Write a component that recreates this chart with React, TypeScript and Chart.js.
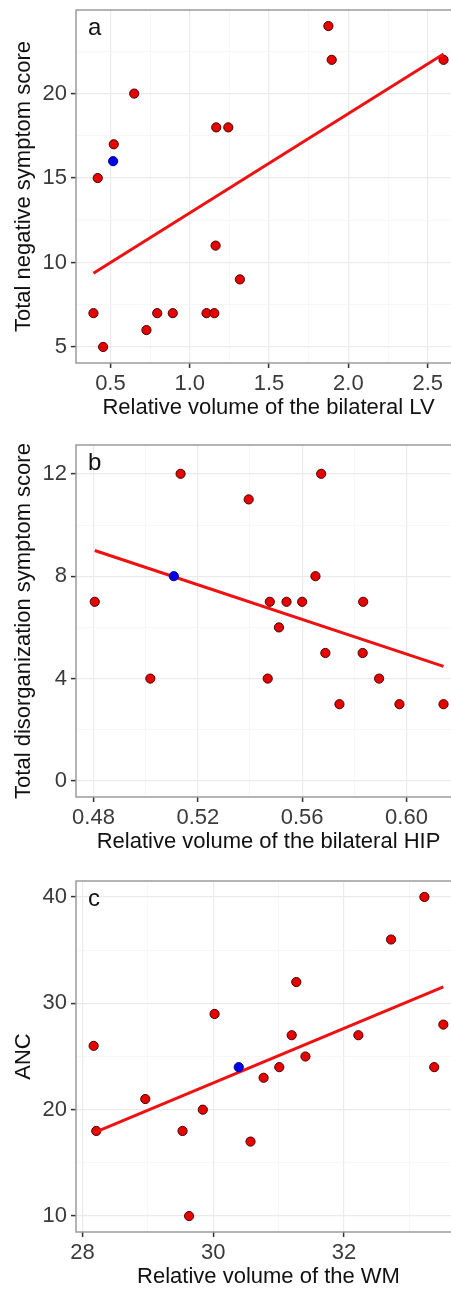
import React, { useEffect, useRef } from 'react';
import { Chart, registerables } from 'chart.js';

Chart.register(...registerables);

const FONT = "'Liberation Sans', Arial, Helvetica, sans-serif";

// ---------- Panel a: LV ----------
const lvRedX = [1.874, 1.895, 2.6, 0.65, 1.167, 1.243, 0.521, 0.42, 1.163, 1.316, 0.393, 0.795, 0.893, 1.106, 1.155, 0.727, 0.454];
const lvRedY = [24, 22, 22, 20, 18, 18, 17, 15, 11, 9, 7, 7, 7, 7, 7, 6, 5];
const lvBlueX = [0.517];
const lvBlueY = [16];
const lvXTicks = [0.5, 1.0, 1.5, 2.0, 2.5];
const lvYTicks = [5, 10, 15, 20];
const lvXRange = [0.283, 2.71];
const lvYRange = [4.05, 24.95];

// ---------- Panel b: HIP ----------
const hipRedX = [0.4805, 0.5134, 0.5395, 0.5673, 0.5651, 0.5476, 0.554, 0.56, 0.5834, 0.5511, 0.5689, 0.5832, 0.5018, 0.5468, 0.5895, 0.5743, 0.5973, 0.6142];
const hipRedY = [7, 12, 11, 12, 8, 7, 7, 7, 7, 6, 5, 5, 4, 4, 4, 3, 3, 3];
const hipBlueX = [0.5108];
const hipBlueY = [8];
const hipXTicks = [0.48, 0.52, 0.56, 0.6];
const hipYTicks = [0, 4, 8, 12];
const hipXRange = [0.4733, 0.6209];
const hipYRange = [-0.625, 13.125];

// ---------- Panel c: WM ----------
const wmRedX = [33.23, 32.72, 31.27, 30.02, 28.17, 31.2, 32.22, 33.52, 31.41, 31.01, 33.38, 30.77, 28.96, 29.84, 28.21, 29.53, 30.57, 29.63];
const wmRedY = [40, 36, 32, 29, 26, 27, 27, 28, 25, 24, 24, 23, 21, 20, 18, 18, 17, 10];
const wmBlueX = [30.39];
const wmBlueY = [24];
const wmXTicks = [28, 30, 32];
const wmYTicks = [10, 20, 30, 40];
const wmXRange = [27.9, 33.79];
const wmYRange = [8.5, 41.5];

type Spec = {
  letter: string;
  redX: number[]; redY: number[];
  blueX: number[]; blueY: number[];
  xTicks: number[]; yTicks: number[];
  xRange: number[]; yRange: number[];
  xDec: number; yDec: number;
  xTitle: string; yTitle: string;
  top: number; plotH: number;
};

const near = (a: number, b: number) => Math.abs(a - b) < 1e-9;
const isMajor = (v: number, majors: number[]) => majors.some((m) => near(m, v));

function withMinors(majors: number[], range: number[]) {
  const step = majors[1] - majors[0];
  const out: number[] = [];
  const candidates = [majors[0] - step / 2, ...majors.flatMap((m) => [m, m + step / 2])];
  for (const c of candidates) if (c >= range[0] - 1e-12 && c <= range[1] + 1e-12) out.push(c);
  return out.sort((p, q) => p - q);
}

function fitLine(xs: number[], ys: number[]) {
  const n = xs.length;
  const mx = xs.reduce((s, v) => s + v, 0) / n;
  const my = ys.reduce((s, v) => s + v, 0) / n;
  let sxy = 0, sxx = 0;
  for (let i = 0; i < n; i++) { sxy += (xs[i] - mx) * (ys[i] - my); sxx += (xs[i] - mx) ** 2; }
  const slope = sxy / sxx;
  const icpt = my - slope * mx;
  const x0 = Math.min(...xs), x1 = Math.max(...xs);
  return [{ x: x0, y: icpt + slope * x0 }, { x: x1, y: icpt + slope * x1 }];
}

const PAD_TOP = 10;
const X_AXIS_H = 60;
const Y_AXIS_W = 76;
const CANVAS_W = 461; // panel extends past the right edge of the 451px picture

function axis(majors: number[], range: number[], dec: number, title: string, isY: boolean) {
  const all = withMinors(majors, range);
  return {
    type: 'linear' as const,
    min: range[0],
    max: range[1],
    afterBuildTicks: (s: any) => { s.ticks = all.map((v) => ({ value: v })); },
    afterFit: (s: any) => {
      if (isY) s.width = Y_AXIS_W; else s.height = X_AXIS_H;
      s.paddingTop = 0; s.paddingBottom = 0; s.paddingLeft = 0; s.paddingRight = 0;
    },
    ticks: {
      autoSkip: false,
      maxRotation: 0,
      minRotation: 0,
      padding: isY ? 4 : 3,
      color: '#3a3a3a',
      font: { family: FONT, size: 22 },
      callback: (v: any) => (isMajor(Number(v), majors) ? Number(v).toFixed(dec) : ''),
    },
    grid: {
      color: (c: any) => (c.tick && isMajor(c.tick.value, majors) ? '#ebebeb' : '#f5f5f5'),
      lineWidth: (c: any) => (c.tick && isMajor(c.tick.value, majors) ? 1.2 : 0.8),
      tickColor: (c: any) => (c.tick && isMajor(c.tick.value, majors) ? '#333333' : 'rgba(0,0,0,0)'),
      tickLength: 5,
      tickWidth: 1.5,
      drawTicks: true,
    },
    border: { display: false },
    title: {
      display: true,
      text: title,
      color: '#111111',
      font: { family: FONT, size: 22 },
      padding: isY ? { top: 11, bottom: 0 } : { top: 0, bottom: 2 },
    },
  };
}

function Panel({ spec }: { spec: Spec }) {
  const ref = useRef<HTMLCanvasElement | null>(null);
  const h = PAD_TOP + spec.plotH + X_AXIS_H;
  useEffect(() => {
    if (!ref.current) return;
    const allX = [...spec.redX, ...spec.blueX];
    const allY = [...spec.redY, ...spec.blueY];
    const frame = {
      id: 'frame' + spec.letter,
      afterDraw(chart: any) {
        const { ctx, chartArea: a } = chart;
        ctx.save();
        ctx.strokeStyle = '#9c9c9c';
        ctx.lineWidth = 1.5;
        ctx.beginPath();
        ctx.moveTo(a.right, a.top);
        ctx.lineTo(a.left, a.top);
        ctx.lineTo(a.left, a.bottom);
        ctx.lineTo(a.right, a.bottom);
        ctx.stroke();
        ctx.fillStyle = '#111111';
        ctx.font = `24px ${FONT}`;
        ctx.textBaseline = 'alphabetic';
        ctx.textAlign = 'left';
        ctx.fillText(spec.letter, a.left + 12, a.top + 25);
        ctx.restore();
      },
    };
    const chart = new Chart(ref.current, {
      type: 'scatter',
      data: {
        datasets: [
          {
            label: 'highlight',
            data: spec.blueX.map((x, i) => ({ x, y: spec.blueY[i] })),
            backgroundColor: '#0000e0',
            borderColor: '#0000a8',
            borderWidth: 1,
            pointRadius: 4.6,
            order: 0,
          },
          {
            label: 'fit',
            data: fitLine(allX, allY),
            showLine: true,
            borderColor: '#ee1111',
            borderWidth: 3,
            pointRadius: 0,
            fill: false,
            order: 1,
          } as any,
          {
            label: 'subjects',
            data: spec.redX.map((x, i) => ({ x, y: spec.redY[i] })),
            backgroundColor: '#e60000',
            borderColor: '#4a0000',
            borderWidth: 1,
            pointRadius: 4.6,
            order: 2,
          },
        ],
      },
      options: {
        animation: false,
        responsive: false,
        devicePixelRatio: 1,
        layout: { autoPadding: false, padding: { top: PAD_TOP, left: 0, right: 0, bottom: 0 } },
        plugins: { legend: { display: false }, tooltip: { enabled: false } },
        scales: {
          x: axis(spec.xTicks, spec.xRange, spec.xDec, spec.xTitle, false) as any,
          y: axis(spec.yTicks, spec.yRange, spec.yDec, spec.yTitle, true) as any,
        },
      },
      plugins: [frame],
    });
    return () => chart.destroy();
  }, [spec]);
  return (
    <canvas
      ref={ref}
      width={CANVAS_W}
      height={h}
      style={{ position: 'absolute', left: 0, top: spec.top - PAD_TOP, width: CANVAS_W, height: h }}
    />
  );
}

const specs: Spec[] = [
  {
    letter: 'a', redX: lvRedX, redY: lvRedY, blueX: lvBlueX, blueY: lvBlueY,
    xTicks: lvXTicks, yTicks: lvYTicks, xRange: lvXRange, yRange: lvYRange, xDec: 1, yDec: 0,
    xTitle: 'Relative volume of the bilateral LV', yTitle: 'Total negative symptom score',
    top: 10, plotH: 353,
  },
  {
    letter: 'b', redX: hipRedX, redY: hipRedY, blueX: hipBlueX, blueY: hipBlueY,
    xTicks: hipXTicks, yTicks: hipYTicks, xRange: hipXRange, yRange: hipYRange, xDec: 2, yDec: 0,
    xTitle: 'Relative volume of the bilateral HIP', yTitle: 'Total disorganization symptom score',
    top: 445, plotH: 352,
  },
  {
    letter: 'c', redX: wmRedX, redY: wmRedY, blueX: wmBlueX, blueY: wmBlueY,
    xTicks: wmXTicks, yTicks: wmYTicks, xRange: wmXRange, yRange: wmYRange, xDec: 0, yDec: 0,
    xTitle: 'Relative volume of the WM', yTitle: 'ANC',
    top: 881, plotH: 351,
  },
];

export default function App() {
  return (
    <div style={{ position: 'fixed', left: 0, top: 0, width: 451, height: 1290, overflow: 'hidden', background: '#ffffff' }}>
      {specs.map((s) => (
        <Panel key={s.letter} spec={s} />
      ))}
    </div>
  );
}
